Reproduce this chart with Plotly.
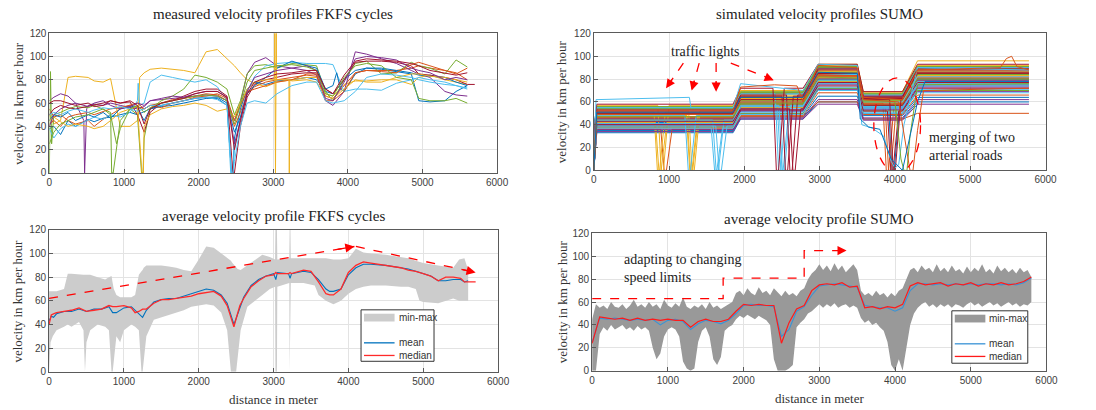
import plotly.graph_objects as go

# ---------------- colours ----------------
MATLAB = ["#0072BD", "#D95319", "#EDB120", "#7E2F8E", "#77AC30", "#4DBEEE", "#A2142F"]
RED = "#ff0000"

# ---------------- measured FKFS cycles (top-left) ----------------
X_M = [0, 60, 150, 250, 350, 520, 600, 720, 820, 950,
       1080, 1180, 1270, 1350, 1500, 1650, 1800, 1950, 2100, 2250,
       2380, 2480, 2560, 2650, 2750, 2900, 3050, 3250, 3450, 3580,
       3700, 3800, 3950, 4100, 4250, 4450, 4650, 4850, 4950, 5100,
       5300, 5450, 5600]

M_LINES = [
    [38, 40, 33, 45, 40, 46, 44, 47, 48, 50, 52, 50, 53, 55, 57, 58, 60, 62, 64, 64,
     58, 30, 55, 72, 78, 76, 79, 80, 82, 80, 70, 68, 80, 88, 90, 89, 87, 85, 62, 61, 62, 70, 75],
    [55, 48, 50, 45, 42, 45, 40, 46, 50, 55, 58, 57, 55, 58, 60, 63, 64, 66, 68, 67,
     62, 40, 52, 68, 74, 78, 80, 82, 84, 83, 66, 64, 75, 86, 88, 88, 88, 90, 92, 90, 88, 85, 90],
    [50, 42, 45, 82, 83, 82, 79, 78, 81, 40, 40, 45, 86, 89, 90, 89, 88, 86, 104, 106,
     98, 92, 86, 80, 77, 74, 78, 80, 82, 82, 68, 66, 76, 79, 79, 80, 80, 76, 82, 84, 80, 78, 76],
    [62, 65, 68, 66, 60, 58, 59, 58, 60, 58, 56, 55, 57, 62, 63, 64, 65, 66, 67, 66,
     62, 45, 60, 85, 95, 99, 92, 90, 88, 84, 62, 58, 70, 104, 102, 98, 94, 88, 85, 82, 70, 67, 66],
    [0, 50, 52, 55, 57, 56, 58, 55, 52, 45, 55, 50, 30, 55, 62, 66, 72, 84, 82, 78,
     72, 50, 62, 85, 92, 93, 90, 94, 93, 92, 70, 62, 80, 94, 96, 85, 86, 95, 92, 90, 85, 97, 91],
    [38, 30, 38, 42, 40, 45, 48, 46, 50, 48, 52, 62, 60, 78, 84, 82, 80, 78, 80, 74,
     62, 20, 48, 70, 83, 92, 94, 95, 94, 94, 94, 93, 70, 72, 72, 71, 77, 80, 82, 80, 78, 75, 73],
    [50, 55, 58, 56, 55, 57, 58, 60, 62, 60, 61, 50, 35, 52, 60, 62, 66, 70, 72, 72,
     66, 0, 40, 65, 76, 80, 82, 85, 86, 86, 72, 68, 80, 95, 96, 96, 95, 92, 85, 84, 82, 80, 76],
    [45, 50, 48, 52, 45, 50, 48, 52, 47, 55, 57, 56, 45, 55, 58, 60, 62, 64, 65, 65,
     60, 35, 48, 68, 75, 82, 90, 96, 92, 90, 72, 75, 70, 85, 90, 90, 88, 86, 84, 83, 82, 78, 75],
    [42, 45, 40, 48, 50, 52, 50, 53, 55, 56, 58, 60, 55, 58, 56, 60, 62, 65, 66, 68,
     64, 45, 58, 70, 72, 75, 78, 80, 85, 85, 62, 62, 70, 86, 88, 87, 86, 93, 95, 92, 88, 86, 80],
    [45, 48, 44, 40, 42, 40, 38, 40, 45, 52, 55, 57, 40, 50, 55, 57, 58, 60, 58, 53,
     55, 48, 60, 72, 78, 80, 80, 79, 80, 78, 66, 64, 72, 80, 78, 78, 82, 85, 85, 83, 82, 80, 78],
    [40, 50, 55, 58, 60, 57, 60, 62, 58, 55, 57, 60, 58, 62, 64, 66, 65, 68, 70, 70,
     65, 25, 45, 70, 82, 85, 88, 90, 92, 88, 64, 62, 78, 98, 100, 99, 97, 90, 88, 86, 80, 82, 80],
    [25, 35, 42, 45, 48, 50, 52, 55, 50, 38, 55, 58, 52, 56, 60, 62, 64, 66, 67, 66,
     62, 42, 58, 78, 88, 90, 92, 93, 91, 88, 68, 66, 82, 92, 94, 92, 82, 80, 64, 62, 62, 64, 60],
    [50, 52, 50, 53, 55, 52, 54, 56, 55, 57, 55, 53, 55, 58, 58, 60, 62, 64, 65, 63,
     58, 10, 40, 60, 62, 60, 68, 75, 78, 78, 62, 60, 62, 70, 82, 85, 84, 82, 80, 78, 76, 75, 72],
    [60, 62, 62, 60, 58, 60, 57, 58, 62, 60, 62, 58, 42, 55, 60, 62, 64, 68, 70, 70,
     65, 20, 45, 68, 78, 82, 85, 86, 88, 88, 72, 68, 84, 96, 98, 97, 96, 94, 92, 88, 86, 84, 86],
]
# extra (x, v) samples of single cycles: stops, spikes and recording glitches
M_EXTRA = {
    0: [(2440, 0), (2460, 0)],
    2: [(1190, 48), (1210, 82)],
    3: [(462, 45), (472, 0), (485, 30), (500, 55)],
    4: [(15, 87), (30, 25), (835, 0), (855, 0), (1235, 0), (1255, 0)],
    5: [(1190, 77), (1210, 58), (2430, 0), (2450, 0)],
    6: [(2460, 0), (5700, 76)],
    7: [(3850, 86), (3900, 72)],
    9: [(1240, 0), (1260, 0), (3015, 80), (3020, 120), (3030, 0), (3040, 120), (3045, 80),
        (3210, 80), (3215, 0), (3222, 80)],
    11: [(900, 25)],
    12: [(2440, 0), (2460, 0)],
}

# ---------------- simulated SUMO profiles (top-right) ----------------
S_SEG_X = [0, 40, 1850, 1950, 2780, 2980, 3500, 3580, 4100, 4300, 5780]
# (start, level seg1, seg2, seg3, seg4, seg5)
S_LEVELS = [
    (0, 45, 58, 80, 58, 80), (20, 50, 62, 86, 62, 85), (0, 42, 55, 78, 55, 76),
    (30, 55, 68, 90, 66, 90), (0, 38, 50, 72, 52, 70), (40, 48, 60, 84, 60, 82),
    (0, 52, 65, 88, 64, 88), (10, 35, 47, 65, 48, 64), (0, 46, 57, 82, 57, 79),
    (25, 57, 70, 92, 68, 92), (0, 40, 52, 75, 54, 73), (35, 49, 61, 85, 61, 84),
    (0, 44, 56, 79, 56, 78), (15, 53, 66, 89, 65, 89), (0, 33, 45, 60, 45, 60),
    (0, 47, 59, 83, 59, 81), (30, 51, 63, 87, 63, 86), (0, 41, 53, 76, 53, 74),
    (20, 56, 69, 91, 67, 91), (0, 39, 51, 73, 50, 71), (0, 43, 54, 77, 57, 77),
    (40, 54, 67, 90, 65, 87), (0, 36, 48, 68, 49, 66), (25, 48, 61, 81, 60, 83),
    (0, 45, 56, 80, 55, 79), (10, 50, 64, 86, 62, 85), (0, 37, 49, 70, 51, 68),
    (30, 58, 72, 93, 69, 93), (0, 42, 55, 78, 56, 75), (0, 46, 60, 82, 59, 82),
    (20, 52, 65, 88, 64, 87), (0, 34, 46, 62, 46, 62), (0, 44, 58, 79, 57, 80),
    (35, 55, 67, 89, 66, 90), (0, 40, 53, 74, 52, 72), (15, 49, 62, 84, 60, 84),
    (0, 47, 58, 81, 58, 78), (0, 53, 66, 87, 63, 88), (10, 38, 50, 71, 53, 69),
    (0, 55, 68, 90, 67, 91), (0, 43, 57, 77, 54, 76), (30, 51, 64, 85, 62, 86),
    (0, 39, 52, 72, 50, 70), (20, 45, 59, 83, 58, 81), (0, 48, 63, 86, 61, 83),
    (0, 36, 45, 58, 44, 58), (25, 54, 68, 91, 67, 89), (0, 41, 54, 76, 55, 74),
    (0, 50, 62, 85, 63, 85), (15, 46, 56, 80, 57, 80), (0, 37, 47, 60, 45, 50),
    (0, 56, 70, 93, 69, 96),
]
# (vehicle index, position of a stop at a traffic light)
S_STOPS = [(2, 880), (9, 910), (16, 860), (23, 1290), (30, 1320), (5, 1270),
           (12, 1640), (19, 1680), (26, 1620), (33, 2470), (40, 2520), (6, 2560),
           (13, 2620), (20, 2660), (27, 2440), (34, 3960), (41, 3990), (8, 3930),
           (15, 3900), (22, 950), (44, 1300), (47, 2500), (49, 3975)]
# individual vehicles with their own samples
S_SPECIAL = [
    ([0, 30, 1270, 1290, 1850, 1950, 2780, 2980, 3500, 3560, 3700, 3850, 3950, 4000, 4050, 4120, 4300, 5780],
     [0, 62, 64, 55, 55, 76, 70, 93, 92, 40, 37, 30, 8, 2, 5, 40, 90, 88], MATLAB[5]),
    ([0, 40, 1850, 1950, 2400, 2700, 2780, 2980, 3500, 3580, 4100, 4300, 5400, 5480, 5550, 5620, 5780],
     [10, 52, 52, 73, 75, 74, 60, 92, 90, 64, 62, 88, 90, 98, 100, 91, 88], MATLAB[1]),
    ([0, 40, 1850, 1950, 2780, 2980, 3500, 3580, 4000, 4080, 4120, 4160, 4200, 4300, 5780],
     [0, 47, 47, 59, 59, 82, 81, 60, 60, 10, 0, 0, 30, 75, 76], MATLAB[4]),
    ([0, 40, 1850, 1950, 2780, 2980, 3500, 3580, 4050, 4150, 4200, 4240, 4300, 4380, 5780],
     [0, 49, 49, 60, 60, 84, 83, 62, 60, 20, 0, 0, 35, 70, 72], MATLAB[1]),
    ([0, 40, 1850, 1950, 2780, 2980, 3500, 3540, 3650, 3800, 3950, 4100, 4300, 4400, 5780],
     [0, 51, 51, 64, 64, 86, 85, 45, 38, 36, 10, 0, 60, 78, 78], MATLAB[0]),
]

# ---------------- average FKFS (bottom-left) ----------------
X_B = [0, 20, 50, 100, 200, 250, 300, 400, 460, 480, 500, 550, 650, 750, 800, 835, 850, 865, 900, 950,
       1000, 1100, 1150, 1200, 1235, 1250, 1265, 1300, 1400, 1500, 1600, 1700, 1800, 1900, 2000, 2100, 2200, 2300, 2380, 2430,
       2450, 2500, 2520, 2560, 2650, 2750, 2850, 2950, 3020, 3025, 3045, 3050, 3210, 3215, 3225, 3230, 3400, 3550, 3600, 3700,
       3800, 3900, 4000, 4100, 4200, 4300, 4500, 4700, 4800, 4900, 4950, 5000, 5200, 5400, 5480, 5550, 5600]
B_MAX = [68, 68, 68, 68, 70, 83, 83, 82, 82, 82, 82, 82, 80, 78, 80, 81, 75, 70, 65, 63,
         63, 63, 65, 82, 85, 86, 88, 90, 90, 90, 89, 88, 86, 85, 95, 106, 105, 100, 96, 94,
         92, 88, 87, 86, 90, 95, 99, 97, 95, 120, 120, 95, 96, 120, 120, 96, 96, 96, 96, 96,
         95, 95, 96, 104, 101, 100, 99, 97, 96, 94, 93, 92, 90, 88, 95, 96, 86]
B_MIN = [0, 25, 30, 35, 38, 40, 38, 42, 35, 0, 25, 35, 40, 38, 35, 0, 0, 10, 30, 25,
         35, 40, 38, 35, 0, 0, 5, 30, 44, 46, 48, 50, 52, 55, 56, 57, 56, 50, 35, 0,
         0, 0, 10, 35, 55, 60, 65, 70, 72, 0, 0, 72, 75, 0, 0, 75, 75, 73, 65, 60,
         57, 60, 66, 70, 72, 73, 73, 72, 72, 70, 60, 59, 58, 62, 60, 60, 60]
X_A = [0, 30, 60, 100, 200, 300, 400, 500, 600, 700,
       800, 850, 900, 1000, 1100, 1150, 1200, 1250, 1300, 1400,
       1500, 1600, 1700, 1800, 1900, 2000, 2100, 2200, 2300, 2380,
       2430, 2470, 2500, 2550, 2600, 2700, 2800, 2900, 3000, 3030,
       3050, 3200, 3220, 3240, 3400, 3500, 3600, 3700, 3750, 3800,
       3900, 4000, 4100, 4200, 4300, 4500, 4700, 4800, 4900, 5000,
       5100, 5200, 5300, 5400, 5500, 5550, 5600, 5700]
A_MEAN = [43, 47, 46, 49, 51, 51, 53, 51, 53, 53,
          55, 50, 50, 54, 55, 52, 49, 46, 52, 59,
          61, 62, 62, 64, 66, 68, 70, 69, 65, 58,
          48, 40, 45, 55, 63, 73, 78, 81, 83, 78,
          84, 83, 79, 83, 85, 84, 78, 70, 68, 68,
          70, 82, 88, 91, 91, 90, 88, 87, 85, 83,
          81, 77, 77, 78, 78, 76, 77, None]
A_MED = [40, 48, 49, 50, 51, 52, 54, 51, 52, 53,
         56, 55, 55, 56, 54, 50, 51, 53, 53, 58,
         61, 61, 62, 63, 64, 66, 67, 68, 64, 56,
         46, 38, 45, 56, 62, 72, 77, 81, 82, 84,
         83, 83, 84, 83, 86, 85, 76, 66, 65, 65,
         70, 84, 90, 93, 92, 90, 88, 86, 85, 83,
         81, 77, 80, 80, 79, 76, 76, 76]

# ---------------- average SUMO (bottom-right) ----------------
X_SB = list(range(0, 5801, 50))
SB_MAX = [45, 58, 55, 57, 54, 60, 56, 55, 58, 54,
          57, 62, 56, 58, 55, 60, 56, 58, 54, 62,
          57, 55, 59, 56, 64, 56, 54, 57, 55, 58,
          54, 60, 55, 57, 54, 56, 58, 60, 68, 70,
          66, 72, 68, 66, 73, 68, 70, 66, 72, 68,
          65, 70, 66, 68, 65, 70, 72, 80, 85, 88,
          93, 88, 92, 87, 94, 88, 92, 86, 90, 93,
          88, 70, 66, 68, 65, 70, 66, 68, 64, 68,
          65, 70, 72, 80, 88, 90, 86, 92, 88, 90,
          86, 93, 87, 90, 86, 92, 87, 89, 85, 91,
          86, 90, 87, 93, 86, 89, 85, 92, 87, 90,
          86, 89, 85, 90, 86, 88, 82]
SB_MIN = [0, 0, 32, 38, 35, 40, 36, 38, 40, 36,
          38, 35, 39, 36, 38, 35, 20, 10, 15, 30,
          36, 38, 36, 30, 8, 2, 0, 2, 25, 35,
          38, 30, 10, 5, 12, 35, 38, 40, 45, 48,
          46, 49, 47, 45, 48, 46, 44, 40, 10, 0,
          0, 0, 2, 5, 38, 42, 45, 50, 52, 55,
          58, 55, 58, 56, 59, 55, 57, 58, 55, 57,
          55, 46, 42, 44, 40, 42, 38, 35, 25, 5,
          0, 10, 0, 20, 40, 50, 55, 58, 60, 56,
          58, 55, 58, 56, 58, 55, 58, 57, 55, 58,
          60, 57, 59, 56, 58, 60, 57, 59, 56, 58,
          60, 57, 59, 56, 58, 57, 60]
X_SA = list(range(0, 5801, 100))
SA_MEAN = [25, 46, 45, 46, 45, 44, 45, 44, 45, 40,
           44, 45, 43, 36, 41, 44, 43, 41, 44, 50,
           57, 58, 57, 57, 56, 30, 36, 52, 56, 66,
           74, 75, 76, 75, 74, 73, 57, 56, 55, 55,
           52, 55, 70, 76, 76, 75, 76, 75, 76, 75,
           76, 75, 76, 76, 75, 76, 75, 77, 81]
SA_MED = [24, 47, 46, 45, 46, 44, 46, 44, 45, 44,
          45, 44, 44, 38, 43, 45, 43, 43, 45, 52,
          58, 57, 58, 57, 57, 24, 42, 54, 57, 70,
          75, 76, 75, 77, 73, 74, 55, 56, 54, 56,
          55, 58, 74, 77, 75, 76, 77, 74, 76, 75,
          77, 74, 76, 75, 77, 75, 76, 78, 82]

X_TICKS = [0, 1000, 2000, 3000, 4000, 5000, 6000]
Y_TICKS = [0, 20, 40, 60, 80, 100, 120]
LEGEND_LABELS = ["min-max", "mean", "median"]

SERIF = "Liberation Serif"
SANS = "Liberation Sans"
W, H = 1096, 410

fig = go.Figure()

# ---- top-left traces
for i, vals in enumerate(M_LINES):
    pts = sorted(list(zip(X_M, vals)) + M_EXTRA.get(i, []), key=lambda p: p[0])
    fig.add_trace(go.Scatter(x=[p[0] for p in pts], y=[p[1] for p in pts], mode="lines",
                             line=dict(color=MATLAB[i % 7], width=1), showlegend=False,
                             xaxis="x", yaxis="y", hoverinfo="skip"))

# ---- top-right traces
groups = {c: ([], []) for c in MATLAB}
for i, lv in enumerate(S_LEVELS):
    ys = [lv[0], lv[1], lv[1], lv[2], lv[2], lv[3], lv[3], lv[4], lv[4], lv[5], lv[5]]
    pts = list(zip(S_SEG_X, ys))
    for (vi, xc) in S_STOPS:
        if vi != i:
            continue
        for k in (1, 3, 5, 7, 9):
            if S_SEG_X[k] <= xc <= S_SEG_X[k + 1]:
                lev = ys[k]
                pts += [(xc - 60, lev), (xc - 15, 0), (xc + 15, 0), (xc + 90, lev)]
    pts.sort(key=lambda p: p[0])
    gx, gy = groups[MATLAB[i % 7]]
    gx += [p[0] for p in pts] + [None]
    gy += [p[1] for p in pts] + [None]
for c, (gx, gy) in groups.items():
    fig.add_trace(go.Scatter(x=gx, y=gy, mode="lines", line=dict(color=c, width=1),
                             showlegend=False, xaxis="x2", yaxis="y2", hoverinfo="skip"))
for sx, sy, c in S_SPECIAL:
    fig.add_trace(go.Scatter(x=sx, y=sy, mode="lines", line=dict(color=c, width=1),
                             showlegend=False, xaxis="x2", yaxis="y2", hoverinfo="skip"))

# ---- bottom-left traces
fig.add_trace(go.Scatter(x=X_B + X_B[::-1], y=B_MAX + B_MIN[::-1], fill="toself",
                         fillcolor="#cccccc", line=dict(color="rgba(0,0,0,0)", width=0),
                         mode="lines", showlegend=False, xaxis="x3", yaxis="y3", hoverinfo="skip"))
fig.add_trace(go.Scatter(x=X_A, y=A_MEAN, mode="lines", showlegend=False,
                         line=dict(color="#0072BD", width=1.1), xaxis="x3", yaxis="y3"))
fig.add_trace(go.Scatter(x=X_A, y=A_MED, mode="lines", showlegend=False,
                         line=dict(color="#ff2a2a", width=1.3), xaxis="x3", yaxis="y3"))

# ---- bottom-right traces
fig.add_trace(go.Scatter(x=X_SB + X_SB[::-1], y=SB_MAX + SB_MIN[::-1], fill="toself",
                         fillcolor="#999999", line=dict(color="rgba(0,0,0,0)", width=0),
                         mode="lines", showlegend=False, xaxis="x4", yaxis="y4", hoverinfo="skip"))
fig.add_trace(go.Scatter(x=X_SA, y=SA_MEAN, mode="lines", showlegend=False,
                         line=dict(color="#3a93d6", width=1.1), xaxis="x4", yaxis="y4"))
fig.add_trace(go.Scatter(x=X_SA, y=SA_MED, mode="lines", showlegend=False,
                         line=dict(color="#ff1a1a", width=1.2), xaxis="x4", yaxis="y4"))

# ---------------- axes ----------------
def xax(domain, anchor):
    return dict(domain=domain, anchor=anchor, range=[0, 6000], tickvals=X_TICKS,
                showgrid=True, gridcolor="#e3e3e3", gridwidth=1, zeroline=False,
                showline=True, linecolor="#5a5a5a", linewidth=1, mirror=True,
                ticks="inside", ticklen=4, tickcolor="#5a5a5a",
                tickfont=dict(family=SANS, size=10, color="#404040"))

def yax(domain, anchor):
    return dict(domain=domain, anchor=anchor, range=[0, 120], tickvals=Y_TICKS,
                showgrid=True, gridcolor="#e3e3e3", gridwidth=1, zeroline=False,
                showline=True, linecolor="#5a5a5a", linewidth=1, mirror=True,
                ticks="inside", ticklen=4, tickcolor="#5a5a5a",
                tickfont=dict(family=SANS, size=10, color="#404040"))

D = {
    1: ([0.0429, 0.4571], [0.5805, 0.9317]),
    2: ([0.5465, 0.9644], [0.5870, 0.9310]),
    3: ([0.0426, 0.4580], [0.0812, 0.4373]),
    4: ([0.5450, 0.9653], [0.0837, 0.4285]),
}

fig.update_layout(
    width=W, height=H, margin=dict(l=0, r=0, t=0, b=0),
    paper_bgcolor="white", plot_bgcolor="white", showlegend=False,
    xaxis=xax(D[1][0], "y"), yaxis=yax(D[1][1], "x"),
    xaxis2=xax(D[2][0], "y2"), yaxis2=yax(D[2][1], "x2"),
    xaxis3=xax(D[3][0], "y3"), yaxis3=yax(D[3][1], "x3"),
    xaxis4=xax(D[4][0], "y4"), yaxis4=yax(D[4][1], "x4"),
)

# ---------------- text ----------------
ann = []
shapes = []

def title(text, dom_x, dom_y, shift):
    ann.append(dict(text=text, x=(dom_x[0] + dom_x[1]) / 2, y=dom_y[1], xref="paper", yref="paper",
                    xanchor="center", yanchor="bottom", yshift=shift, showarrow=False,
                    font=dict(family=SERIF, size=15, color="#222222")))

title("measured velocity profiles FKFS cycles", *D[1], 9)
title("simulated velocity profiles SUMO", *D[2], 9)
title("average velocity profile FKFS cycles", *D[3], 4)
title("average velocity profile SUMO", *D[4], 4)

for k, px in ((1, 15), (2, 567), (3, 15), (4, 567)):
    dy = D[k][1]
    ann.append(dict(text="velocity in km per hour", x=px / W, y=(dy[0] + dy[1]) / 2,
                    xref="paper", yref="paper", textangle=-90, showarrow=False,
                    xanchor="center", yanchor="middle",
                    font=dict(family=SERIF, size=13, color="#333333")))
for k in (3, 4):
    dx = D[k][0]
    ann.append(dict(text="distance in meter", x=(dx[0] + dx[1]) / 2, y=D[k][1][0], xref="paper",
                    yref="paper", xanchor="center", yanchor="top", yshift=-18, showarrow=False,
                    font=dict(family=SERIF, size=13, color="#333333")))

ann.append(dict(text="traffic lights", x=1490, y=104, xref="x2", yref="y2", showarrow=False,
                font=dict(family=SERIF, size=14, color="#222222")))
ann.append(dict(text="merging of two<br>arterial roads", x=4430, y=21, xref="x2", yref="y2",
                xanchor="left", align="left", showarrow=False,
                font=dict(family=SERIF, size=14, color="#222222")))
ann.append(dict(text="adapting to changing<br>speed limits", x=390, y=89, xref="x4", yref="y4",
                xanchor="left", align="left", showarrow=False,
                font=dict(family=SERIF, size=14, color="#222222")))

def dashed_arrow(ax_, ay_, x0, y0, x1, y1, frac):
    shapes.append(dict(type="line", xref=ax_, yref=ay_, x0=x0, y0=y0, x1=x1, y1=y1,
                       line=dict(color=RED, width=1.3, dash="dash")))
    ann.append(dict(x=x1, y=y1, ax=x1 - (x1 - x0) * frac, ay=y1 - (y1 - y0) * frac,
                    xref=ax_, yref=ay_, axref=ax_, ayref=ay_, text="", showarrow=True,
                    arrowhead=2, arrowsize=1.4, arrowwidth=1.3, arrowcolor=RED))

dashed_arrow("x2", "y2", 1190, 94, 960, 72, 0.4)
dashed_arrow("x2", "y2", 1400, 94, 1300, 70, 0.4)
dashed_arrow("x2", "y2", 1625, 94, 1625, 69, 0.4)
dashed_arrow("x2", "y2", 1820, 94, 2390, 79, 0.15)
dashed_arrow("x3", "y3", 0, 62, 4080, 106, 0.06)
dashed_arrow("x3", "y3", 4100, 106, 5700, 84, 0.12)

shapes.append(dict(type="circle", xref="x2", yref="y2", x0=3720, x1=4340, y0=-2, y1=81,
                   line=dict(color=RED, width=1.3, dash="dash")))
shapes.append(dict(type="path", xref="x4", yref="y4",
                   path="M 0,63 L 1730,63 L 1730,81 L 2800,81 L 2800,105 L 3300,105",
                   line=dict(color=RED, width=1.3, dash="dash")))
ann.append(dict(x=3360, y=105, ax=3250, ay=105, xref="x4", yref="y4", axref="x4", ayref="y4",
                text="", showarrow=True, arrowhead=2, arrowsize=1.4, arrowwidth=1.3,
                arrowcolor=RED))

# ---------------- legends (drawn in pixel layout) ----------------
def legend_box(left, top, right, bottom, patch_color, mean_color, med_color):
    px = lambda v: v / W
    py = lambda v: 1 - v / H
    shapes.append(dict(type="rect", xref="paper", yref="paper", x0=px(left), x1=px(right),
                       y0=py(bottom), y1=py(top), line=dict(color="#333333", width=1),
                       fillcolor="white", layer="above"))
    shapes.append(dict(type="rect", xref="paper", yref="paper", x0=px(left + 3), x1=px(left + 34),
                       y0=py(top + 12), y1=py(top + 4), line=dict(width=0),
                       fillcolor=patch_color, layer="above"))
    for yy, col in ((top + 34, mean_color), (top + 47, med_color)):
        shapes.append(dict(type="line", xref="paper", yref="paper", x0=px(left + 3), x1=px(left + 34),
                           y0=py(yy), y1=py(yy), line=dict(color=col, width=1.3), layer="above"))
    for yy, lab in zip((top + 8, top + 34, top + 47), LEGEND_LABELS):
        ann.append(dict(text=lab, x=px(left + 36), y=py(yy), xref="paper", yref="paper",
                        xanchor="left", yanchor="middle", showarrow=False,
                        font=dict(family=SANS, size=10, color="#333333")))

legend_box(363, 313, 437, 366, "#cccccc", "#0072BD", "#ff2a2a")
legend_box(962, 314, 1039, 368, "#999999", "#3a93d6", "#ff1a1a")

fig.update_layout(annotations=ann, shapes=shapes)
fig.write_html("out.html")
